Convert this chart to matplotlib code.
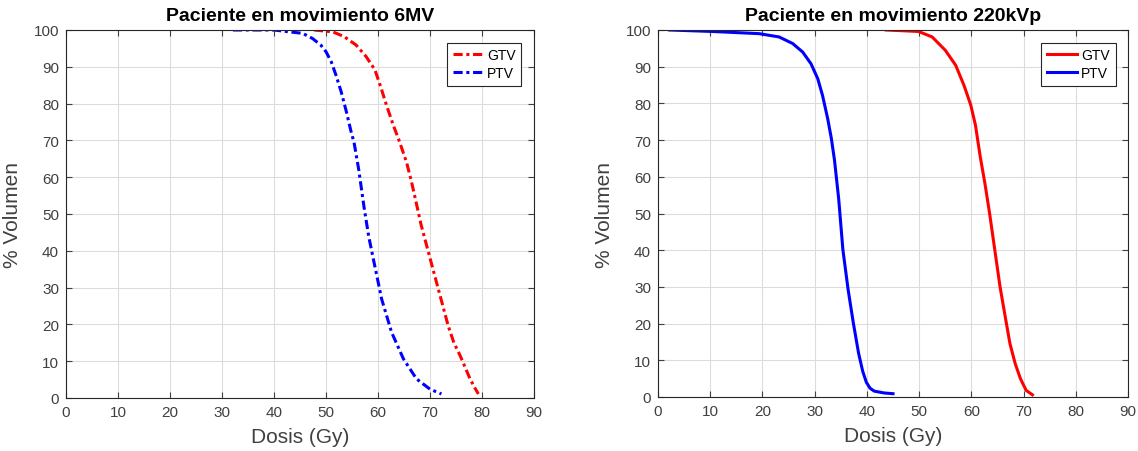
import matplotlib
matplotlib.use("Agg")
import matplotlib.pyplot as plt

plt.rcParams['font.family'] = ['Liberation Sans', 'DejaVu Sans']

# Left chart: 6MV
mv_gtv_dose = [47.7, 51.3, 53.5, 55.8, 57.7, 59.4, 60.6, 61.6, 62.9, 64.2, 65.5, 66.4, 67.2, 68.3,
               69.7, 71.6, 73.5, 74.6, 75.8, 76.8, 77.7, 78.6, 79.3]
mv_gtv_vol  = [100.0, 99.5, 98.2, 95.9, 92.8, 89.2, 84.2, 79.7, 74.3, 69.4, 64.0, 59.0, 54.0, 47.0,
               39.6, 29.6, 19.6, 15.0, 11.5, 8.2, 5.2, 2.8, 1.1]
mv_ptv_dose = [32.1, 40.0, 42.9, 45.5, 47.4, 49.0, 50.0, 51.0, 51.9, 52.9, 53.9, 54.8, 55.4, 56.3,
               57.3, 58.2, 59.1, 60.7, 62.6, 64.9, 67.4, 70.0, 72.2]
mv_ptv_vol  = [100.0, 100.0, 99.5, 99.1, 97.7, 95.9, 94.1, 91.4, 87.8, 83.3, 77.9, 72.5, 69.4, 62.0,
               52.0, 44.0, 37.8, 26.9, 17.9, 10.6, 5.2, 2.4, 1.1]

# Right chart: 220kVp
kv_gtv_dose = [43.7, 49.9, 52.5, 55.0, 57.0, 58.6, 59.9, 60.8, 61.7, 62.6, 63.5, 64.5, 65.5, 66.5,
               67.4, 68.4, 69.4, 70.5, 71.7]
kv_gtv_vol  = [100.0, 99.6, 98.1, 94.5, 90.4, 84.9, 79.5, 74.0, 65.5, 58.2, 50.0, 40.0, 30.0, 21.8,
               14.5, 9.1, 5.0, 1.8, 0.6]
kv_ptv_dose = [2.2, 10.4, 19.4, 23.2, 25.8, 27.7, 29.3, 30.6, 31.5, 32.5, 33.2, 33.8, 34.6, 35.4,
               36.4, 37.4, 38.4, 39.2, 39.9, 40.6, 41.4, 43.3, 45.0]
kv_ptv_vol  = [100.0, 99.6, 99.0, 98.1, 96.3, 94.0, 90.8, 86.7, 82.2, 75.8, 70.4, 64.5, 54.0, 40.2,
               29.3, 20.2, 12.0, 7.0, 4.0, 2.4, 1.6, 1.1, 0.9]

titles = ['Paciente en movimiento 6MV', 'Paciente en movimiento 220kVp']
xticks = list(range(0, 100, 10))
yticks = list(range(0, 110, 10))

fig = plt.figure(figsize=(11.38, 4.52), dpi=100)
ax1 = fig.add_axes([66/1138, 1-399/452, 468/1138, 368/452])
ax2 = fig.add_axes([658/1138, 1-398/452, 470/1138, 367/452])

dd = (3, 1.2, 1, 1.2)
ax1.plot(mv_gtv_dose, mv_gtv_vol, color='red', lw=2.2, dashes=dd, label='GTV')
ax1.plot(mv_ptv_dose, mv_ptv_vol, color='blue', lw=2.2, dashes=dd, label='PTV')
ax2.plot(kv_gtv_dose, kv_gtv_vol, color='red', ls='-', lw=2.2, label='GTV')
ax2.plot(kv_ptv_dose, kv_ptv_vol, color='blue', ls='-', lw=2.2, label='PTV')

for ax, t in zip([ax1, ax2], titles):
    ax.set_xlim(0, 90)
    ax.set_ylim(0, 100)
    ax.set_xticks(xticks)
    ax.set_yticks(yticks)
    ax.grid(True, color='#dcdcdc', lw=0.8)
    ax.set_axisbelow(True)
    ax.tick_params(direction='in', top=True, right=True, labelsize=11,
                   colors='#404040', length=4, width=0.8, pad=5)
    for s in ax.spines.values():
        s.set_color('#262626')
        s.set_linewidth(0.8)
    ax.set_title(t, fontsize=14, fontweight='bold', pad=7)
    ax.set_xlabel('Dosis (Gy)', fontsize=15, color='#404040', labelpad=6)
    ax.set_ylabel('% Volumen', fontsize=15, color='#404040', labelpad=8)
    leg = ax.legend(loc='upper right', fontsize=10, fancybox=False, framealpha=1,
                    edgecolor='#262626', handlelength=2.2, borderaxespad=0.9,
                    handletextpad=0.3, labelspacing=0.3)
    leg.get_frame().set_linewidth(0.8)

fig.savefig('out.png', dpi=100)
